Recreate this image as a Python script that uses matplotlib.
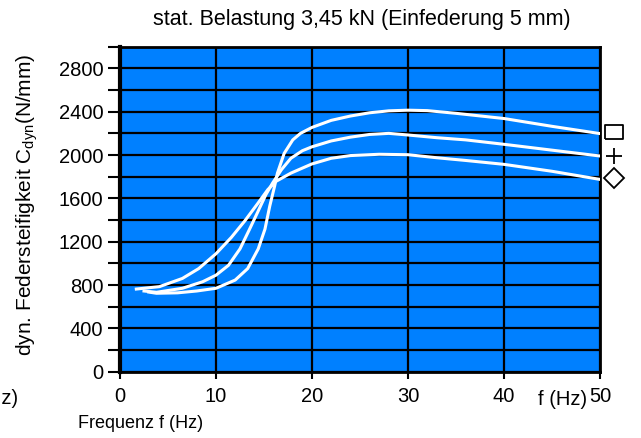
import numpy as np
import matplotlib; matplotlib.use("Agg")
import matplotlib.pyplot as plt
from matplotlib.ticker import MultipleLocator

plt.rcParams['font.family'] = ['Liberation Sans Narrow', 'Liberation Sans', 'DejaVu Sans']
plt.rcParams['mathtext.fontset'] = 'custom'
plt.rcParams['mathtext.rm'] = 'Liberation Sans'

# curve data (f in Hz, C_dyn in N/mm)
f_square = [3.0, 3.8, 6.0, 8.0, 10.0, 12.0, 13.3, 14.4, 15.1, 15.6, 16.1, 16.4, 17.1, 18.0,
            18.8, 20.0, 22.0, 24.0, 26.0, 28.0, 30.0, 32.0, 35.0, 40.0, 45.0, 50.0]
c_square = [735, 724, 728, 745, 770, 846, 952, 1134, 1316, 1529, 1711, 1833, 2015, 2140,
            2200, 2255, 2320, 2360, 2390, 2408, 2414, 2410, 2385, 2337, 2265, 2198]

f_plus = [2.5, 3.8, 6.5, 8.6, 10.0, 11.3, 12.5, 13.5, 14.4, 15.2, 15.9, 16.8, 17.8, 19.0,
          20.0, 22.0, 24.0, 26.0, 28.0, 30.0, 33.0, 36.0, 40.0, 45.0, 50.0]
c_plus = [745, 733, 770, 830, 891, 982, 1134, 1316, 1484, 1635, 1742, 1863, 1970, 2040,
          2076, 2130, 2165, 2190, 2200, 2185, 2160, 2140, 2099, 2045, 1991]

f_diamond = [1.7, 4.1, 6.5, 8.2, 10.0, 11.6, 13.0, 14.4, 15.4, 16.25, 17.8, 20.0, 22.0, 24.0,
             27.0, 30.0, 33.0, 36.0, 40.0, 45.0, 50.0]
c_diamond = [763, 785, 861, 952, 1089, 1240, 1392, 1559, 1681, 1757, 1833, 1918, 1970, 1995,
             2007, 2003, 1975, 1950, 1914, 1850, 1775]

x_ticks = [0, 10, 20, 30, 40, 50]
y_ticks = [0, 400, 800, 1200, 1600, 2000, 2400, 2800]

fig = plt.figure(figsize=(6.41, 4.38), dpi=100)
ax = fig.add_axes([120 / 641, 1 - 371.7 / 438, 480 / 641, 325 / 438])
ax.set_facecolor('#0080FF')
ax.set_xlim(0, 50)
ax.set_ylim(0, 3000)

ax.set_xticks(x_ticks)
ax.set_yticks(y_ticks)
ax.yaxis.set_minor_locator(MultipleLocator(200))
ax.grid(True, which='both', color='black', lw=1.6)
ax.set_axisbelow(True)
ax.tick_params(axis='both', which='major', labelsize=14.5, length=9, width=1.5, pad=3, color='black')
ax.tick_params(axis='x', which='major', length=5, pad=6)
ax.tick_params(axis='y', which='minor', length=9, width=1.5)
for s in ax.spines.values():
    s.set_linewidth(2)
ax.spines['left'].set_linewidth(3)

for fx, cy in [(f_square, c_square), (f_plus, c_plus), (f_diamond, c_diamond)]:
    ax.plot(fx, cy, color='white', lw=2.2, solid_joinstyle='round', zorder=3)

# end markers outside the plot
ax.plot(51.45, c_square[-1] + 10, marker=[(-1.3, -1), (1.3, -1), (1.3, 1), (-1.3, 1), (-1.3, -1)],
        ms=13, mfc='white', mec='black', mew=1.3, clip_on=False, ls='none')
ax.plot(51.45, c_plus[-1], marker='+', ms=12, mec='black', mew=1.3, clip_on=False, ls='none')
ax.plot(51.45, c_diamond[-1] + 15, marker='D', ms=10, mfc='white', mec='black', mew=1.3,
        clip_on=False, ls='none')

ax.text(46.1, -0.087, 'f (Hz)', transform=ax.get_xaxis_transform(), ha='center', va='center',
        fontsize=14.5)
fig.text(362 / 641, 1 - 20 / 438, 'stat. Belastung 3,45 kN (Einfederung 5 mm)', ha='center',
         va='center', fontsize=15.5)
fig.text(27 / 641, 1 - 205 / 438, r'dyn. Federsteifigkeit C$_{\mathregular{dyn}}$(N/mm)',
         rotation=90, ha='center', va='center', fontsize=15)
fig.text(141 / 641, 1 - 424 / 438, 'Frequenz f (Hz)', ha='center', va='center', fontsize=13)
fig.text(18 / 641, 1 - 399 / 438, 'f (Hz)', ha='right', va='center', fontsize=14.5)

fig.savefig('out.png', dpi=100)
